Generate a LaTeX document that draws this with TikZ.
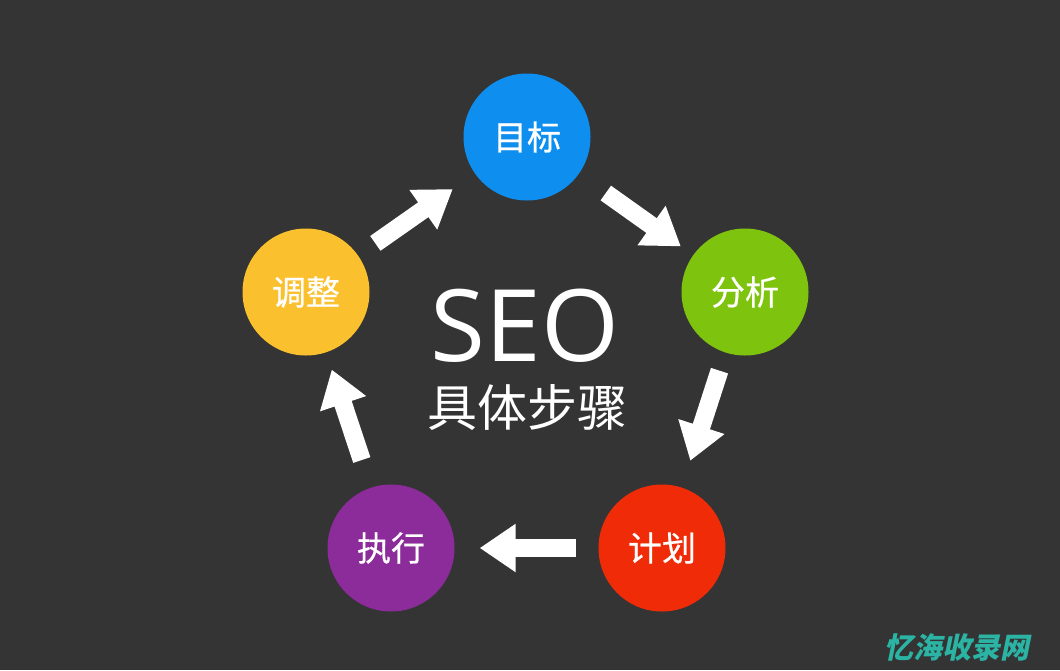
\documentclass[tikz,border=0pt]{standalone}
\usepackage{fontspec}
\setmainfont{Open Sans}
\newfontfamily\cjk{Noto Sans CJK SC}
\newfontfamily\cjkbold{Noto Sans CJK SC}[FakeBold=0.6]
\newfontfamily\markfont{Noto Sans CJK SC}[FakeSlant=0.2]
\usepackage{xcolor}
\usetikzlibrary{arrows.meta}

\definecolor{bgdark}{HTML}{343434}
\definecolor{cblue}{HTML}{0E8FF0}
\definecolor{cgreen}{HTML}{7EC40F}
\definecolor{cred}{HTML}{F02C08}
\definecolor{cpurple}{HTML}{8C2B9A}
\definecolor{cyellow}{HTML}{FBC02D}
\definecolor{cteal}{HTML}{2BB3A3}

\begin{document}
\begin{tikzpicture}[x=1pt,y=-1pt,
                    stepnode/.style={circle, minimum size=127pt, inner sep=0pt,
                                     text=white, font=\cjkbold\fontsize{34}{34}\selectfont},
                    flow/.style={white, line width=18pt,
                                 -{Triangle[length=36pt,width=46pt]}}]
                    \fill[bgdark] (0,0) rectangle (1060,670);
                    % the five steps
                    \node[stepnode, fill=cblue]   (mubiao)    at (527,137) {目标};
                    \node[stepnode, fill=cgreen]  (fenxi)     at (745,292) {分析};
                    \node[stepnode, fill=cred]    (jihua)     at (662,548) {计划};
                    \node[stepnode, fill=cpurple] (zhixing)   at (391,548) {执行};
                    \node[stepnode, fill=cyellow] (tiaozheng) at (306,292) {调整};
                    % title in the middle
                    \node[inner sep=0pt, text=white, font=\fontsize{100}{100}\selectfont]
                        (seo) at (525,326) {SEO};
                    \node[inner sep=0pt, text=white, font=\cjk\fontsize{50}{50}\selectfont]
                        (buzhou) at (527,408) {具体步骤};
                    % arrows
                    \draw[flow, shorten <=21pt, shorten >=27pt] (tiaozheng) -- (mubiao);
                    \draw[flow, shorten <=33pt, shorten >=15pt] (mubiao) -- (fenxi);
                    \draw[flow, shorten <=19pt, shorten >=28pt] (fenxi) -- (jihua);
                    \draw[flow, shorten <=22pt, shorten >=25pt] (jihua) -- (zhixing);
                    \draw[flow, shorten <=29pt, shorten >=18pt] (zhixing) -- (tiaozheng);
                    % watermark
                    \node[inner sep=0pt, text=cteal, font=\markfont\bfseries\fontsize{29}{29}\selectfont]
                        (mark) at (957,648) {忆海收录网};
                \end{tikzpicture}
\end{document}
